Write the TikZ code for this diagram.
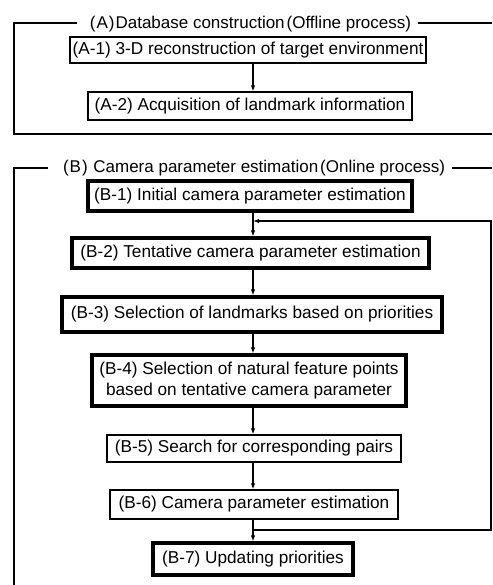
\documentclass[tikz,border=0pt]{standalone}
\usepackage{fontspec}
\setmainfont{Liberation Sans}
\usetikzlibrary{arrows.meta}
\begin{document}
\begin{tikzpicture}[x=1pt,y=-1pt,
  font=\fontsize{17.2}{21.5}\selectfont,
  thinbox/.style={draw,line width=1.3pt,inner sep=0pt,align=center},
  thickbox/.style={draw,line width=3.2pt,inner sep=0pt,align=center},
  frameline/.style={line width=1.4pt},
  arr/.style={line width=1.3pt,-{Latex[length=6pt,width=4.5pt]}},
  title/.style={inner sep=0pt,anchor=base,font=\fontsize{17}{20}\selectfont}]
\useasboundingbox (0,0) rectangle (492,585);

% (A) offline database construction
\coordinate (fa-top) at (14,23);
\coordinate (fa-bot) at (14,134);
\node[title] (ta) at (250.5,28.5) {(\kern1pt A\kern1pt)\kern1pt Database construction\kern2pt(Offline process)};
\draw[frameline] (ta.west |- fa-top) ++(-13,0) -- (fa-top) -- (fa-bot) -- (492,134);
\draw[frameline] (ta.east |- fa-top) ++(7,0) -- (492,23);

\node[thinbox,minimum width=356pt,minimum height=26pt] (a1) at (248,50)
  {(A-1) 3-D reconstruction of target environment};
\node[thinbox,minimum width=324pt,minimum height=28pt] (a2) at (250,106)
  {(A-2) Acquisition of landmark information};
\draw[arr] (a1.south -| 253,0) -- (a2.north -| 253,0);

% (B) online camera parameter estimation
\coordinate (fb-top) at (14,168);
\node[title] (tb) at (254,173) {(\kern1pt B\kern1pt)\kern1pt{} Camera parameter estimation\kern2pt(Online process)};
\draw[frameline] (tb.west |- fb-top) ++(-15,0) -- (fb-top) -- (14,585);
\draw[frameline] (tb.east |- fb-top) ++(7,0) -- (492,168);

\node[thickbox,minimum width=324pt,minimum height=30pt] (b1) at (250,196)
  {(B-1) Initial camera parameter estimation};
\node[thickbox,minimum width=357pt,minimum height=30pt] (b2) at (250.5,253)
  {(B-2) Tentative camera parameter estimation};
\node[thickbox,minimum width=380pt,minimum height=35pt] (b3) at (252,314.5)
  {(B-3) Selection of landmarks based on priorities};
\node[thickbox,minimum width=314pt,minimum height=51pt] (b4) at (249,380.5)
  {(B-4) Selection of natural feature points\\based on tentative camera parameter};
\node[thinbox,minimum width=294pt,minimum height=27pt] (b5) at (254,448.5)
  {(B-5) Search for corresponding pairs};
\node[thinbox,minimum width=288pt,minimum height=29pt] (b6) at (254,504.5)
  {(B-6) Camera parameter estimation};
\node[thickbox,minimum width=200pt,minimum height=32pt] (b7) at (253,559)
  {(B-7) Updating priorities};

\draw[arr] (b1.south -| 253,0) -- (b2.north -| 253,0);
\draw[arr] (b2.south -| 253,0) -- (b3.north -| 253,0);
\draw[arr] (b3.south -| 253,0) -- (b4.north -| 253,0);
\draw[arr] (b4.south -| 253,0) -- (b5.north -| 253,0);
\draw[arr] (b5.south -| 253,0) -- (b6.north -| 253,0);
\draw[arr] (b6.south -| 253,0) -- (b7.north -| 253,0);

% feedback loop from (B-6) back above (B-2)
\coordinate (fb-out) at (253,530);
\coordinate (fb-in) at (253,221);
\draw[arr] (fb-out) -- (491,530) -- (491,221) -- (fb-in);
\end{tikzpicture}
\end{document}
